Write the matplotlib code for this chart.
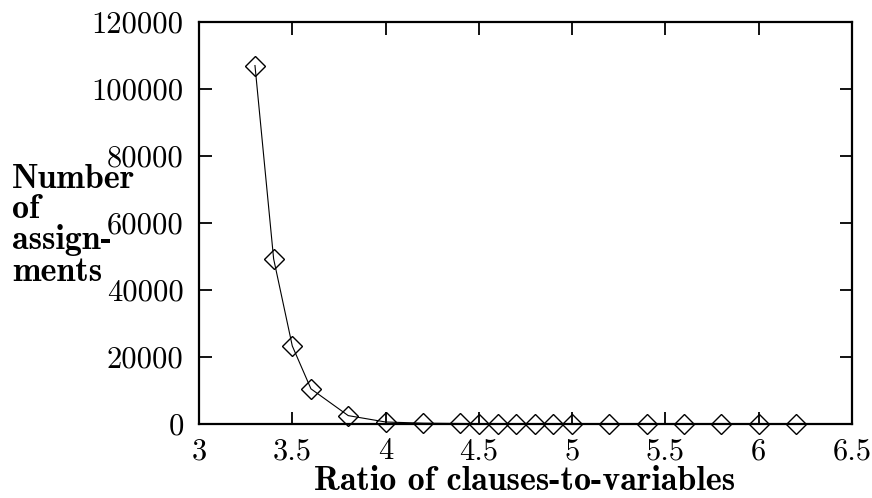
import matplotlib
matplotlib.use("Agg")
import matplotlib.pyplot as plt

ratios = [3.3, 3.4, 3.5, 3.6, 3.8, 4.0, 4.2, 4.4, 4.5, 4.6, 4.7, 4.8, 4.9, 5.0,
          5.2, 5.4, 5.6, 5.8, 6.0, 6.2]
assignments = [107000, 49300, 23300, 10500, 2500, 600, 250, 150, 120, 100, 90, 80,
               70, 60, 50, 45, 40, 35, 30, 25]
x_ticks = [3, 3.5, 4, 4.5, 5, 5.5, 6, 6.5]
x_tick_labels = ["3", "3.5", "4", "4.5", "5", "5.5", "6", "6.5"]
y_ticks = [0, 20000, 40000, 60000, 80000, 100000, 120000]
y_tick_labels = ["0", "20000", "40000", "60000", "80000", "100000", "120000"]
ylabel_lines = ["Number", "of", "assign-", "ments"]
xlabel = "Ratio of clauses-to-variables"

plt.rcParams['axes.formatter.use_mathtext'] = True
W, H = 872, 498
fig = plt.figure(figsize=(W / 100, H / 100), dpi=100)
ax = fig.add_axes([199 / W, 1 - 424 / H, (852 - 199) / W, (424 - 22) / H])

ax.plot(ratios, assignments, color='black', lw=0.8, marker='D', ms=10.5,
        mfc='none', mec='black', mew=1.0, clip_on=False, zorder=3)

ax.set_xlim(3, 6.5)
ax.set_ylim(0, 120000)
ax.set_xticks(x_ticks)
ax.set_xticklabels(x_tick_labels, family='cmr10', fontsize=22)
ax.set_yticks(y_ticks)
ax.set_yticklabels(y_tick_labels, family='cmr10', fontsize=22)
ax.tick_params(direction='in', length=9, width=1.3, top=True, right=True,
               color='black')
ax.tick_params(axis='x', pad=10)
ax.tick_params(axis='y', pad=11)
for s in ax.spines.values():
    s.set_linewidth(1.6)

baselines = [188, 218, 249, 281]
for line, yb in zip(ylabel_lines, baselines):
    fig.text(12 / W, 1 - yb / H, line, family='cmb10', fontsize=24.5,
             ha='left', va='baseline')

fig.text(525 / W, 1 - 490 / H, xlabel, family='cmb10', fontsize=24.5,
         ha='center', va='baseline')

fig.savefig("out.png", dpi=100)
